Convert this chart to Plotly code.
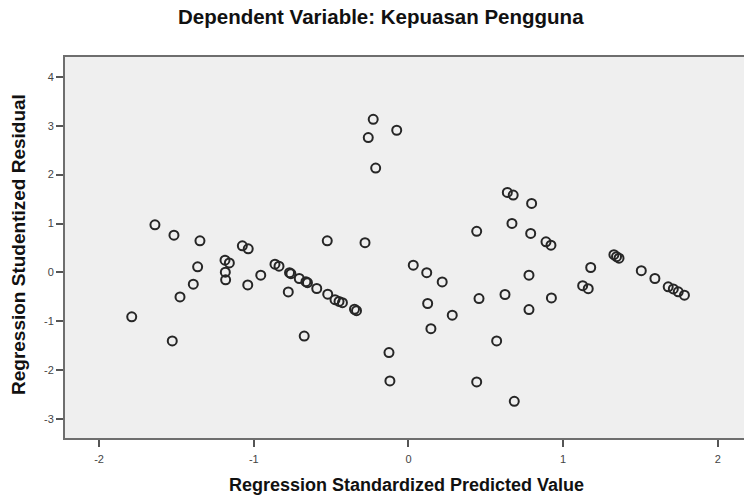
import plotly.graph_objects as go

# Regression Standardized Predicted Value
pred = [-1.789, -1.639, -1.516, -1.527, -1.477, -1.391, -1.363, -1.348,
        -1.186, -1.158, -1.184, -1.182, -1.074, -1.036, -1.039, -0.955,
        -0.863, -0.837, -0.769, -0.760, -0.777, -0.706, -0.663, -0.653,
        -0.674, -0.593, -0.522, -0.525, -0.475, -0.449, -0.427, -0.349,
        -0.336, -0.281, -0.260, -0.228, -0.212, -0.076, -0.126, -0.120,
        0.031, 0.118, 0.218, 0.124, 0.145, 0.283, 0.441, 0.456,
        0.441, 0.570, 0.624, 0.639, 0.677, 0.669, 0.684, 0.796,
        0.790, 0.779, 0.779, 0.889, 0.921, 0.924, 1.126, 1.162,
        1.178, 1.328, 1.345, 1.361, 1.505, 1.593, 1.679, 1.712,
        1.744, 1.784]

# Regression Studentized Residual
resid = [-0.906, 0.975, 0.763, -1.399, -0.499, -0.239, 0.115, 0.646,
         0.252, 0.196, 0.006, -0.151, 0.544, 0.483, -0.254, -0.055,
         0.170, 0.129, -0.004, -0.025, -0.397, -0.123, -0.188, -0.209,
         -1.299, -0.327, -0.444, 0.646, -0.556, -0.591, -0.618, -0.751,
         -0.781, 0.609, 2.757, 3.129, 2.133, 2.906, -1.636, -2.217,
         0.149, -0.004, -0.192, -0.634, -1.149, -0.873, 0.840, -0.532,
         -2.237, -1.399, -0.450, 1.636, 1.581, 1.002, -2.632, 1.411,
         0.798, -0.055, -0.757, 0.626, 0.558, -0.519, -0.270, -0.331,
         0.102, 0.364, 0.323, 0.292, 0.037, -0.123, -0.294, -0.337,
         -0.395, -0.464]

x_ticks = [-2, -1, 0, 1, 2]
y_ticks = [-3, -2, -1, 0, 1, 2, 3, 4]

title_text = "Dependent Variable: Kepuasan Pengguna"
x_title = "Regression Standardized Predicted Value"
y_title = "Regression Studentized Residual"

FONT = "Liberation Sans, Arial, sans-serif"
W, H = 744, 499
L, R, T, B = 65, 0, 57, 61

fig = go.Figure()
fig.add_trace(go.Scatter(
    x=pred, y=resid, mode="markers",
    marker=dict(symbol="circle-open", size=9, color="#262626",
                line=dict(width=2, color="#262626")),
    showlegend=False, hoverinfo="x+y",
))

def px_to_paper_x(px):
    return (px - L) / (W - L - R)

def px_to_paper_y(py):
    return (H - B - py) / (H - T - B)

fig.update_layout(
    width=W, height=H,
    margin=dict(l=L, r=R, t=T, b=B),
    paper_bgcolor="white",
    plot_bgcolor="#efefef",
    font=dict(family=FONT, color="#222"),
    xaxis=dict(range=[-2.2204, 2.169], tickvals=x_ticks, ticktext=[str(v) for v in x_ticks],
               showgrid=False, zeroline=False, showline=True, linecolor="#6e6e6e",
               linewidth=2, mirror=True, ticks="outside", ticklen=7, tickwidth=1.5,
               tickcolor="#555", tickfont=dict(size=11, color="#444"), automargin=False,
               ticklabelstandoff=3),
    yaxis=dict(range=[-3.382, 4.403], tickvals=y_ticks, ticktext=[str(v) for v in y_ticks],
               showgrid=False, zeroline=False, showline=True, linecolor="#6e6e6e",
               linewidth=2, ticks="outside", ticklen=7, tickwidth=1.5,
               tickcolor="#555", tickfont=dict(size=11, color="#444"), automargin=False),
    annotations=[
        dict(text=title_text, xref="paper", yref="paper",
             x=px_to_paper_x(381), y=px_to_paper_y(17), xanchor="center", yanchor="middle",
             showarrow=False, font=dict(size=20.5, color="#111", weight="bold")),
        dict(text=x_title, xref="paper", yref="paper",
             x=px_to_paper_x(406), y=px_to_paper_y(485), xanchor="center", yanchor="middle",
             showarrow=False, font=dict(size=18, color="#111", weight="bold")),
        dict(text=y_title, xref="paper", yref="paper",
             x=px_to_paper_x(18), y=px_to_paper_y(245), xanchor="center", yanchor="middle",
             textangle=-90, showarrow=False, font=dict(size=19, color="#111", weight="bold")),
    ],
)

fig.write_html("out.html", config={"displayModeBar": False},
               post_script="document.body.style.margin='0';document.body.style.overflow='hidden';")
